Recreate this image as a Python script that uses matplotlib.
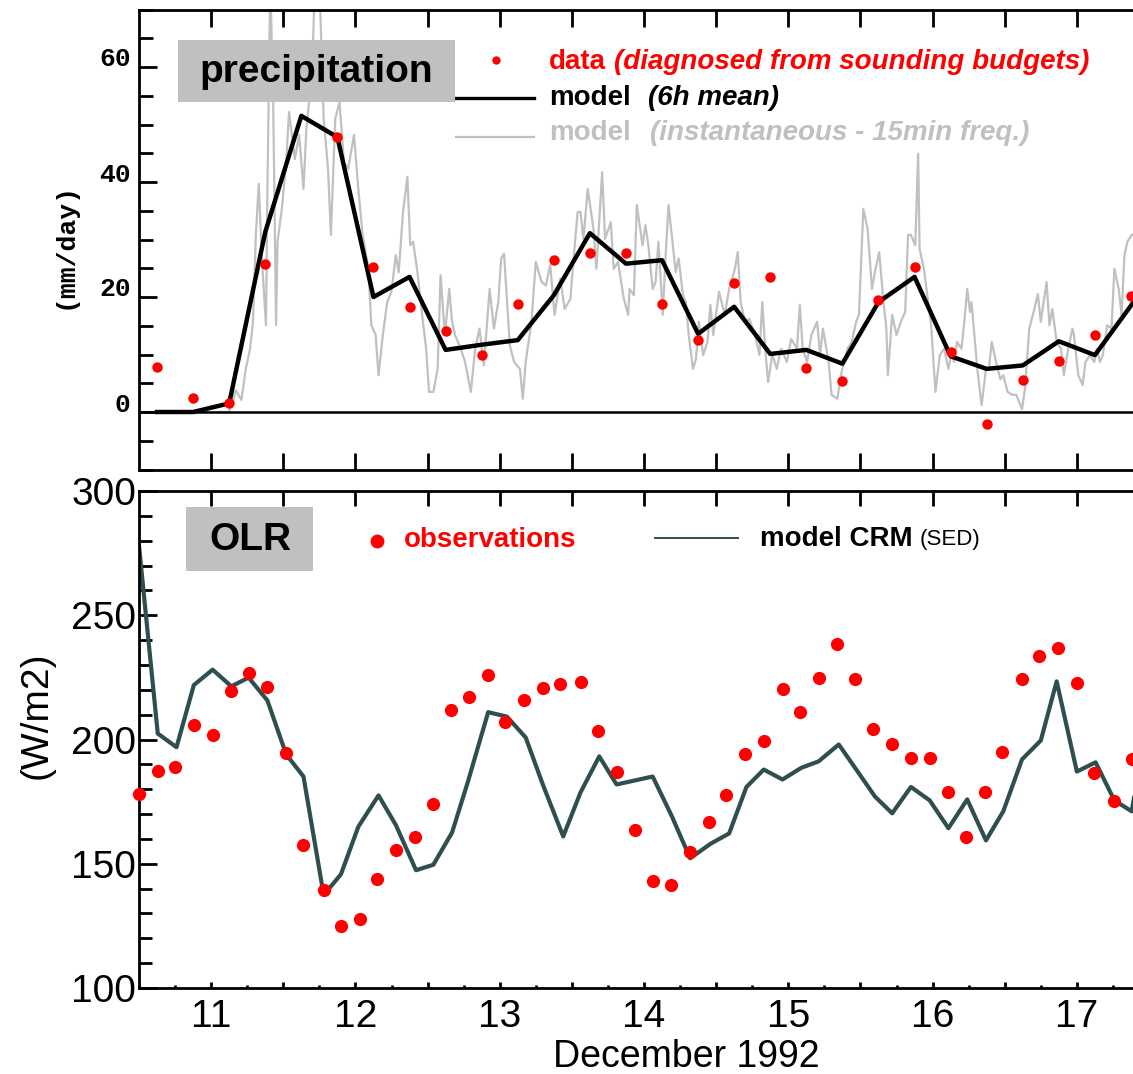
import numpy as np
import matplotlib.pyplot as plt
import matplotlib.transforms as mtransforms
from matplotlib.patches import Rectangle
from matplotlib.lines import Line2D
from matplotlib.ticker import MultipleLocator

plt.rcParams['font.family'] = 'Liberation Sans'

# ---- precipitation (mm/day), December 1992 ----
# 6 hourly model means
mean_day = [10.625, 10.875, 11.125, 11.375, 11.625, 11.875, 12.125, 12.375, 12.625, 12.875,
            13.125, 13.375, 13.625, 13.875, 14.125, 14.375, 14.625, 14.875, 15.125, 15.375,
            15.625, 15.875, 16.125, 16.375, 16.625, 16.875, 17.125, 17.375, 17.625]
mean_prec = [0, 0, 1.5, 31.3, 51.5, 47.8, 20.0, 23.5, 10.8, 11.7,
             12.5, 20.3, 31.1, 25.8, 26.4, 13.6, 18.3, 10.1, 10.8, 8.4,
             19.1, 23.5, 9.7, 7.5, 8.1, 12.3, 9.9, 18.5, 27.0]

# budget-diagnosed data (no value shown at the 11.625 peak)
data_day = mean_day[:-1]
data_prec = [7.8, 2.5, 1.6, 25.7, np.nan, 47.8, 25.3, 18.3, 14.1, 10.0,
             18.8, 26.4, 27.7, 27.7, 18.8, 12.5, 22.5, 23.5, 7.7, 5.4,
             19.4, 25.3, 10.4, -2.1, 5.6, 8.9, 13.4, 20.2]

# instantaneous model output
inst_day = [10.50, 11.12, 11.15, 11.17, 11.21, 11.24, 11.27, 11.29, 11.31, 11.33,
            11.35, 11.38, 11.39, 11.41, 11.43, 11.45, 11.46, 11.49, 11.52, 11.54,
            11.58, 11.61, 11.64, 11.66, 11.70, 11.72, 11.75, 11.78, 11.81, 11.83,
            11.86, 11.89, 11.92, 11.95, 11.99, 12.02, 12.05, 12.09, 12.11, 12.14,
            12.16, 12.19, 12.22, 12.25, 12.28, 12.30, 12.33, 12.36, 12.38, 12.40,
            12.43, 12.46, 12.49, 12.51, 12.54, 12.57, 12.59, 12.62, 12.65, 12.67,
            12.69, 12.73, 12.76, 12.80, 12.83, 12.86, 12.89, 12.93, 12.96, 12.99,
            13.01, 13.03, 13.07, 13.10, 13.14, 13.16, 13.18, 13.22, 13.25, 13.29,
            13.32, 13.35, 13.38, 13.42, 13.45, 13.49, 13.51, 13.54, 13.56, 13.58,
            13.61, 13.65, 13.67, 13.71, 13.73, 13.77, 13.79, 13.82, 13.86, 13.89,
            13.90, 13.93, 13.95, 13.99, 14.01, 14.03, 14.06, 14.08, 14.10, 14.13,
            14.15, 14.17, 14.20, 14.22, 14.24, 14.27, 14.29, 14.31, 14.34, 14.36,
            14.38, 14.41, 14.44, 14.46, 14.48, 14.52, 14.56, 14.59, 14.63, 14.65,
            14.67, 14.70, 14.73, 14.77, 14.80, 14.82, 14.84, 14.86, 14.89, 14.92,
            14.95, 14.99, 15.02, 15.06, 15.08, 15.10, 15.13, 15.16, 15.20, 15.22,
            15.24, 15.28, 15.30, 15.34, 15.37, 15.41, 15.44, 15.47, 15.49, 15.52,
            15.55, 15.58, 15.60, 15.63, 15.66, 15.68, 15.69, 15.72, 15.75, 15.78,
            15.81, 15.83, 15.85, 15.88, 15.90, 15.91, 15.94, 15.97, 15.99, 16.02,
            16.05, 16.08, 16.11, 16.13, 16.15, 16.17, 16.20, 16.22, 16.24, 16.26,
            16.27, 16.29, 16.31, 16.34, 16.37, 16.39, 16.41, 16.44, 16.47, 16.49,
            16.52, 16.55, 16.58, 16.62, 16.64, 16.67, 16.70, 16.73, 16.75, 16.79,
            16.81, 16.83, 16.86, 16.89, 16.91, 16.94, 16.97, 16.98, 17.01, 17.04,
            17.06, 17.09, 17.12, 17.14, 17.16, 17.18, 17.21, 17.24, 17.26, 17.29,
            17.31, 17.33, 17.35, 17.38, 17.42]
inst_prec = [0, 0, 1.7, 3.8, 2.1, 7.5, 11, 15.7, 30.8, 39.7,
             27.3, 15.1, 38.8, 75, 54, 15.1, 29.6, 35.3, 43.5, 52.2,
             44, 48.2, 38.8, 49.2, 59.7, 75, 75, 51, 42.3, 30.8,
             51, 53.9, 43.5, 42.3, 48.2, 38.8, 30.8, 24.9, 15.1, 13.4,
             6.4, 13.4, 19.1, 21, 27.3, 24.3, 34.8, 40.9, 29, 29.6,
             24.3, 17.4, 11, 3.5, 3.5, 7.5, 23.8, 13.4, 21.4, 15.7,
             13.4, 11, 8.7, 3.5, 11, 14.5, 8.1, 21.4, 14.5, 19.1,
             26.7, 27.5, 11.6, 8.7, 7.5, 2.3, 8.7, 15.7, 26.1, 22.6,
             22, 25.6, 16.9, 23.2, 17.9, 19.7, 26.1, 34.8, 34.8, 30.1,
             38.8, 31.8, 24.9, 41.7, 30.1, 33, 24.9, 26.1, 19.7, 16.9,
             21.4, 20.3, 36, 29, 32.5, 29, 21.4, 22.6, 29.6, 16.9,
             27.3, 36, 29, 24.3, 26.7, 20.3, 19.1, 13.4, 7.5, 9.2,
             15.7, 9.9, 12.2, 18.6, 13.4, 20.9, 16.9, 21.4, 24.9, 27.8,
             19.1, 15.7, 16.2, 13.4, 9.9, 19.1, 11, 5.2, 10, 7.5,
             11, 8.7, 12.7, 11, 18.6, 11, 8.7, 13.4, 15.7, 9.9,
             14.5, 8.7, 3, 2.3, 7, 11, 12.2, 15.7, 16.9, 35.3,
             31.8, 21.4, 24.3, 27.8, 19.1, 14.5, 6.4, 16.9, 13.4, 15.7,
             17.4, 30.8, 30.8, 29, 44.9, 28.4, 24.9, 19.1, 15.1, 3.5,
             9.9, 11, 7.5, 10, 8.7, 12.2, 11, 15.7, 21.4, 17.4,
             19.1, 13.4, 7.5, 1.2, 7.5, 7.5, 12.2, 8.7, 5.7, 6.4,
             3.5, 3, 3, 0.5, 4, 14.5, 17.4, 20.5, 15.7, 22.6,
             15.1, 17.9, 12.2, 11, 6.4, 11, 14.5, 13.4, 6.4, 4.7,
             8.7, 9.9, 8.7, 11, 8.7, 9.9, 15.1, 14.5, 24.9, 21.4,
             16.9, 27.3, 29.6, 30.8, 31]

# ---- OLR (W/m2) ----
crm_day = [10.50, 10.63, 10.76, 10.88, 11.01, 11.14, 11.26, 11.39, 11.52, 11.64,
           11.78, 11.90, 12.02, 12.16, 12.28, 12.42, 12.54, 12.67, 12.78, 12.92,
           13.05, 13.18, 13.30, 13.44, 13.56, 13.69, 13.81, 14.06, 14.19, 14.32,
           14.46, 14.59, 14.71, 14.83, 14.96, 15.09, 15.21, 15.35, 15.47, 15.60,
           15.72, 15.85, 15.98, 16.11, 16.24, 16.37, 16.49, 16.62, 16.75, 16.86,
           17.00, 17.13, 17.26, 17.38, 17.51]
crm_olr = [278, 202.4, 196.9, 221.9, 228.1, 221.4, 224.9, 215.7, 194.0, 185.1,
           137.4, 145.8, 164.9, 177.5, 165.6, 147.4, 149.6, 162.6, 183.1, 211.0,
           209.2, 200.8, 181.7, 161.0, 178.7, 193.2, 181.9, 185.1, 169.5, 152.2,
           158.0, 162.2, 180.9, 187.9, 183.9, 188.6, 191.2, 198.0, 188.0, 177.1,
           170.3, 180.9, 175.5, 164.3, 175.9, 159.4, 171.1, 192.0, 199.6, 223.4,
           187.1, 190.8, 175.5, 171.1, 215]

obs_day = [10.50, 10.63, 10.75, 10.88, 11.01, 11.14, 11.26, 11.39, 11.52, 11.64,
           11.78, 11.90, 12.03, 12.15, 12.28, 12.41, 12.54, 12.66, 12.79, 12.92,
           13.04, 13.17, 13.30, 13.42, 13.56, 13.68, 13.81, 13.94, 14.06, 14.19,
           14.32, 14.45, 14.57, 14.70, 14.83, 14.96, 15.08, 15.21, 15.34, 15.46,
           15.59, 15.72, 15.85, 15.98, 16.11, 16.23, 16.36, 16.48, 16.62, 16.74,
           16.87, 17.00, 17.12, 17.26, 17.38]
obs_olr = [177.9, 187.3, 189.0, 205.7, 201.8, 219.7, 226.8, 221.1, 194.7, 157.7,
           139.6, 124.9, 127.8, 143.8, 155.4, 160.6, 174.0, 212.0, 217.3, 226.1,
           207.2, 215.7, 220.7, 222.2, 223.3, 203.4, 187.1, 163.6, 143.1, 141.4,
           154.6, 166.7, 177.5, 194.2, 199.2, 220.4, 211.0, 224.9, 238.6, 224.5,
           204.4, 198.2, 192.4, 192.4, 178.9, 160.7, 178.9, 194.8, 224.5, 233.7,
           237.0, 222.9, 186.5, 175.3, 192.0]

half_days = [11, 11.5, 12, 12.5, 13, 13.5, 14, 14.5, 15, 15.5, 16, 16.5, 17, 17.5]
day_labels = ['11', '', '12', '', '13', '', '14', '', '15', '', '16', '', '17', '']

RED = '#ff0000'
GREY = '#c0c0c0'
SLATE = '#2f4f4f'

fig = plt.figure(figsize=(11.33, 10.74), dpi=100)

# ================= precipitation panel =================
ax1 = fig.add_axes([139 / 1133, 1 - 469.5 / 1074, 1010 / 1133, 460 / 1074])
ax1.plot(inst_day, inst_prec, color=GREY, lw=1.6, zorder=1)
ax1.axhline(0, color='black', lw=1.8, zorder=2)
ax1.plot(mean_day, mean_prec, color='black', lw=3.2, zorder=3)
ax1.plot(data_day, data_prec, 'o', color=RED, ms=7.5, mec='none', zorder=4)
ax1.set_xlim(10.5, 17.5)
ax1.set_ylim(-10, 70)
for s in ax1.spines.values():
    s.set_linewidth(2)
ax1.set_xticks(half_days)
ax1.tick_params(axis='x', which='major', direction='in', top=True, bottom=True,
                length=12, width=2, labelbottom=False)
ax1.set_yticks([0, 20, 40, 60])
ax1.yaxis.set_minor_locator(MultipleLocator(5))
ax1.set_yticklabels(['0', '20', '40', '60'], fontfamily='Liberation Mono',
                    fontweight='bold', fontsize=19)
ax1.tick_params(axis='y', which='major', direction='in', length=13, width=2, pad=6)
ax1.tick_params(axis='y', which='minor', direction='in', length=10, width=2)
shift = mtransforms.ScaledTranslation(0, 0.1, fig.dpi_scale_trans)
for lab in ax1.get_yticklabels():
    lab.set_transform(lab.get_transform() + shift)
ax1.text(-0.0733, 0.486, '(mm/day)', transform=ax1.transAxes, rotation=90,
         ha='center', va='center', fontfamily='Liberation Mono', fontweight='bold',
         fontsize=19)

ax1.add_patch(Rectangle((0.0386, 0.799), 0.2743, 0.1348, transform=ax1.transAxes,
                        facecolor=GREY, edgecolor='none', zorder=5))
ax1.text(0.1752, 0.864, 'precipitation', transform=ax1.transAxes, ha='center',
         va='center', fontsize=28, fontweight='bold', zorder=6)

ax1.add_line(Line2D([0.3535], [0.890], marker='o', color=RED, ms=6, mec='none',
                    transform=ax1.transAxes))
ax1.text(0.406, 0.886, 'data', transform=ax1.transAxes, ha='left', va='center',
         fontsize=20, fontweight='bold', color=RED)
ax1.text(0.4703, 0.886, '(diagnosed from sounding budgets)', transform=ax1.transAxes,
         ha='left', va='center', fontsize=20, fontweight='bold', style='italic', color=RED)
ax1.add_line(Line2D([0.3139, 0.3911], [0.8076, 0.8076], color='black', lw=2.4,
                    transform=ax1.transAxes))
ax1.text(0.406, 0.8076, 'model', transform=ax1.transAxes, ha='left', va='center',
         fontsize=20, fontweight='bold', color='black')
ax1.text(0.504, 0.8076, '(6h mean)', transform=ax1.transAxes, ha='left', va='center',
         fontsize=20, fontweight='bold', style='italic', color='black')
ax1.add_line(Line2D([0.3139, 0.3911], [0.7228, 0.7228], color=GREY, lw=1.6,
                    transform=ax1.transAxes))
ax1.text(0.406, 0.7315, 'model', transform=ax1.transAxes, ha='left', va='center',
         fontsize=20, fontweight='bold', color=GREY)
ax1.text(0.506, 0.7315, '(instantaneous - 15min freq.)', transform=ax1.transAxes,
         ha='left', va='center', fontsize=20, fontweight='bold', style='italic', color=GREY)

# ================= OLR panel =================
ax2 = fig.add_axes([139 / 1133, 1 - 988 / 1074, 1010 / 1133, 497 / 1074])
ax2.plot(crm_day, crm_olr, color=SLATE, lw=3, zorder=2)
ax2.plot(obs_day, obs_olr, 'o', color=RED, ms=9.5, mec='none', zorder=3, clip_on=False)
ax2.set_xlim(10.5, 17.5)
ax2.set_ylim(100, 300)
for s in ax2.spines.values():
    s.set_linewidth(2)
ax2.set_xticks(half_days)
ax2.set_xticklabels(day_labels, fontsize=28)
ax2.xaxis.set_minor_locator(MultipleLocator(0.25))
ax2.tick_params(axis='x', which='major', direction='in', length=4.5, width=2, pad=8)
ax2.tick_params(axis='x', which='minor', direction='in', length=2.5, width=2)
top = ax2.secondary_xaxis('top')
top.set_xticks(half_days)
top.tick_params(axis='x', direction='in', length=11, width=2, labeltop=False)
ax2.set_yticks([100, 150, 200, 250, 300])
ax2.set_yticklabels(['100', '150', '200', '250', '300'], fontsize=28)
ax2.yaxis.set_minor_locator(MultipleLocator(10))
ax2.tick_params(axis='y', which='major', direction='in', length=13, width=2, pad=2)
ax2.tick_params(axis='y', which='minor', direction='in', length=9, width=2)
ax2.text(-0.101, 0.549, '(W/m2)', transform=ax2.transAxes, rotation=90,
         ha='center', va='center', fontsize=28)
ax2.text(0.5416, -0.138, 'December 1992', transform=ax2.transAxes, ha='center',
         va='center', fontsize=27)

ax2.add_patch(Rectangle((0.0465, 0.839), 0.1257, 0.1288, transform=ax2.transAxes,
                        facecolor=GREY, edgecolor='none', zorder=5))
ax2.text(0.1099, 0.9014, 'OLR', transform=ax2.transAxes, ha='center', va='center',
         fontsize=28, fontweight='bold', zorder=6)
ax2.add_line(Line2D([0.2356], [0.8994], marker='o', color=RED, ms=10, mec='none',
                    transform=ax2.transAxes))
ax2.text(0.2624, 0.9014, 'observations', transform=ax2.transAxes, ha='left',
         va='center', fontsize=20, fontweight='bold', color=RED)
ax2.add_line(Line2D([0.5109, 0.5931], [0.9054, 0.9054], color=SLATE, lw=1.4,
                    transform=ax2.transAxes))
ax2.text(0.6149, 0.9034, 'model CRM', transform=ax2.transAxes, ha='left',
         va='center', fontsize=20, fontweight='bold', color='black')
ax2.text(0.7725, 0.9034, '(SED)', transform=ax2.transAxes, ha='left',
         va='center', fontsize=16, color='black')

fig.savefig('out.png', dpi=100)
